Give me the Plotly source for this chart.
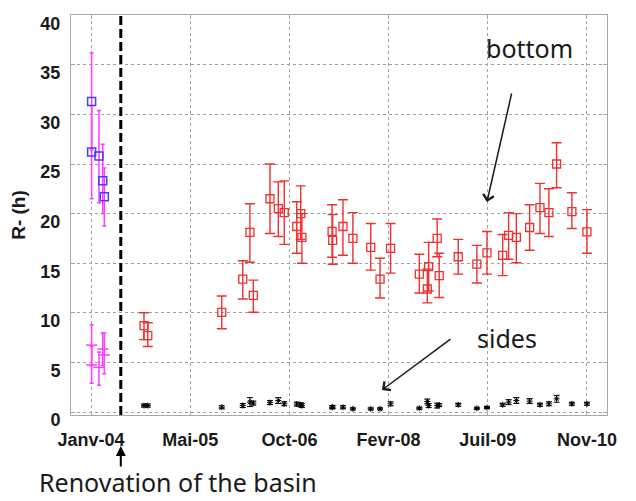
import plotly.graph_objects as go

# ---------------- data ----------------
TICK_DATES = ["2004-01-15", "2005-05-29", "2006-10-11", "2008-02-23", "2009-07-07", "2010-11-19"]
TICK_LABELS = ["Janv-04", "Mai-05", "Oct-06", "Fevr-08", "Juil-09", "Nov-10"]
Y_TICKS = [0, 5, 10, 15, 20, 25, 30, 35, 40]
RENOVATION_DATE = "2004-06-13"

# before renovation
BEFORE_DATES = ["2004-01-18", "2004-01-18", "2004-02-24", "2004-03-14", "2004-03-22"]
BEFORE_BOTTOM = [31.3, 26.2, 25.8, 23.3, 21.7]
BEFORE_BOTTOM_ERR_PLUS = [4.9, 4.7, 4.6, 3.7, 2.9]
BEFORE_BOTTOM_ERR_MINUS = [4.9, 4.7, 4.7, 3.3, 2.95]
BEFORE_SIDES = [6.75, 4.75, 4.5, 6.35, 5.75]
BEFORE_SIDES_ERR_PLUS = [2.05, 1.85, 1.55, 1.65, 2.25]
BEFORE_SIDES_ERR_MINUS = [2.05, 1.85, 1.8, 1.65, 1.9]

# after renovation
AFTER_DATES = [
    "2004-10-08", "2004-10-27", "2005-11-04", "2006-02-18", "2006-03-26", "2006-04-12",
    "2006-07-05", "2006-08-16", "2006-09-15", "2006-11-17", "2006-12-07", "2006-12-13",
    "2007-05-14", "2007-05-17", "2007-07-08", "2007-08-27", "2007-11-25", "2008-01-11",
    "2008-03-04", "2008-07-27", "2008-09-05", "2008-09-12", "2008-10-25", "2008-11-04",
    "2009-02-08", "2009-05-13", "2009-07-03", "2009-09-20", "2009-10-20", "2009-11-28",
    "2010-02-03", "2010-03-27", "2010-05-11", "2010-06-19", "2010-09-04", "2010-11-19",
]
AFTER_BOTTOM = [
    8.7, 7.7, 10.05, 13.4, 18.1, 11.75,
    21.5, 20.5, 20.1, 18.7, 20.0, 17.6,
    18.2, 17.3, 18.7, 17.5, 16.6, 13.4,
    16.5, 13.9, 12.4, 14.65, 17.5, 13.75,
    15.65, 14.9, 16.05, 15.8, 17.8, 17.6,
    18.6, 20.6, 20.1, 25.0, 20.2, 18.15,
]
AFTER_BOTTOM_ERR_PLUS = [
    1.3, 1.3, 1.65, 1.85, 2.9, 1.55,
    3.5, 2.7, 3.2, 2.5, 2.8, 2.4,
    2.7, 2.6, 2.7, 2.6, 2.4, 2.1,
    2.5, 2.0, 2.0, 2.45, 1.95, 2.25,
    1.75, 1.9, 2.15, 2.1, 2.3, 2.4,
    2.3, 2.45, 2.4, 2.15, 1.9, 2.25,
]
AFTER_BOTTOM_ERR_MINUS = [
    1.4, 1.1, 1.65, 2.0, 3.0, 1.7,
    3.5, 2.8, 3.2, 2.7, 2.6, 2.6,
    2.6, 2.4, 2.9, 2.5, 2.3, 1.9,
    2.5, 1.9, 1.4, 2.45, 1.85, 2.2,
    1.75, 1.9, 2.15, 2.05, 2.4, 2.55,
    2.3, 2.6, 2.4, 2.4, 1.7, 2.15,
]
AFTER_SIDES = [
    0.65, 0.65, 0.48, 0.65, 1.0, 0.9,
    0.95, 1.16, 0.83, 0.8, 0.73, 0.65,
    0.48, 0.5, 0.48, 0.32, 0.32, 0.32,
    0.83, 0.38, 1.06, 0.65, 0.65, 0.7,
    0.73, 0.37, 0.45, 0.73, 1.0, 1.16,
    1.1, 0.73, 0.83, 1.33, 0.83, 0.83,
]
AFTER_SIDES_ERR = [
    0.15, 0.15, 0.15, 0.2, 0.45, 0.2,
    0.2, 0.3, 0.2, 0.2, 0.2, 0.2,
    0.15, 0.15, 0.15, 0.1, 0.1, 0.1,
    0.2, 0.1, 0.25, 0.2, 0.25, 0.15,
    0.15, 0.1, 0.1, 0.15, 0.25, 0.3,
    0.25, 0.15, 0.2, 0.35, 0.15, 0.15,
]

# ---------------- styles ----------------
MAGENTA = "#ff3cff"
BLUE = "#3f3fff"
RED = "#ee3030"
GRID = "#a0a0a0"
FRAME = "#a9a9a9"

fig = go.Figure()

fig.add_trace(go.Scatter(
    x=BEFORE_DATES, y=BEFORE_BOTTOM, mode="markers",
    marker=dict(symbol="square-open", size=8, color=BLUE, line=dict(width=1.5, color=BLUE)),
    error_y=dict(type="data", symmetric=False, array=BEFORE_BOTTOM_ERR_PLUS,
                 arrayminus=BEFORE_BOTTOM_ERR_MINUS, color=MAGENTA, thickness=1.5, width=2),
))
fig.add_trace(go.Scatter(
    x=BEFORE_DATES, y=BEFORE_SIDES, mode="markers",
    marker=dict(symbol="line-ew-open", size=8, color=MAGENTA, line=dict(width=1.5, color=MAGENTA)),
    error_y=dict(type="data", symmetric=False, array=BEFORE_SIDES_ERR_PLUS,
                 arrayminus=BEFORE_SIDES_ERR_MINUS, color=MAGENTA, thickness=1.5, width=2),
))
fig.add_trace(go.Scatter(
    x=AFTER_DATES, y=AFTER_BOTTOM, mode="markers",
    marker=dict(symbol="square-open", size=8, color=RED, line=dict(width=1.3, color=RED)),
    error_y=dict(type="data", symmetric=False, array=AFTER_BOTTOM_ERR_PLUS,
                 arrayminus=AFTER_BOTTOM_ERR_MINUS, color=RED, thickness=1.4, width=5),
))
fig.add_trace(go.Scatter(
    x=AFTER_DATES, y=AFTER_SIDES, mode="markers",
    marker=dict(symbol="asterisk-open", size=5, color="black", line=dict(width=1, color="black")),
    error_y=dict(type="data", array=AFTER_SIDES_ERR, color="black", thickness=1, width=3),
))

# white boxes behind the labels (hide the grid as in the reference)
fig.add_shape(type="rect", xref="paper", yref="paper", x0=0.716, x1=0.998, y0=0.80, y1=0.997,
              fillcolor="white", line=dict(width=0), layer="between")
fig.add_shape(type="rect", xref="paper", yref="paper", x0=0.67, x1=0.983, y0=0.1425, y1=0.275,
              fillcolor="white", line=dict(width=0), layer="between")

# renovation line
fig.add_shape(type="line", xref="x", yref="paper", x0=RENOVATION_DATE, x1=RENOVATION_DATE,
              y0=0, y1=1, line=dict(color="black", width=3, dash="9px,4px"))

ANN_FONT = dict(family="Noto Sans", size=25, color="#1a1a1a")
fig.add_annotation(text="bottom", xref="paper", yref="paper", x=0.8545, y=0.9175,
                   xanchor="center", yanchor="middle", showarrow=False, font=ANN_FONT)
fig.add_annotation(text="sides", xref="paper", yref="paper", x=0.8134, y=0.1925,
                   xanchor="center", yanchor="middle", showarrow=False, font=ANN_FONT)
fig.add_annotation(text="", xref="paper", yref="paper", x=0.776, y=0.5325, ax=25, ay=-110,
                   showarrow=True, arrowhead=4, arrowsize=1.4, arrowwidth=1.5, arrowcolor="#1a1a1a")
fig.add_annotation(text="", xref="paper", yref="paper", x=0.5802, y=0.0625, ax=70, ay=-52,
                   showarrow=True, arrowhead=4, arrowsize=1.4, arrowwidth=1.5, arrowcolor="#1a1a1a")
fig.add_annotation(text="", xref="x", yref="paper", x=RENOVATION_DATE, y=-0.0775, ax=0, ay=22,
                   showarrow=True, arrowhead=2, arrowsize=1, arrowwidth=2, arrowcolor="black")
fig.add_annotation(text="Renovation of the basin", xref="paper", yref="paper",
                   x=-0.0634, y=-0.1675, xanchor="left", yanchor="middle",
                   showarrow=False, font=ANN_FONT)

TICK_FONT = dict(family="Liberation Sans", size=18, color="#1a1a1a", weight="bold")

fig.update_xaxes(
    type="date", range=["2003-10-06", "2011-02-28"], automargin=False,
    tickmode="array", tickvals=TICK_DATES, ticktext=TICK_LABELS,
    showgrid=True, gridcolor=GRID, griddash="dot", gridwidth=1,
    showline=True, linecolor=FRAME, linewidth=1, mirror="ticks",
    ticks="inside", ticklen=4, tickcolor=FRAME,
    tickfont=TICK_FONT, ticklabelstandoff=8, zeroline=False,
    ticklabeloverflow="allow",
)
fig.update_yaxes(
    range=[-0.3, 40.02], tickmode="array", tickvals=Y_TICKS, automargin=False,
    showgrid=True, gridcolor=GRID, griddash="dot", gridwidth=1,
    showline=True, linecolor=FRAME, linewidth=1, mirror="ticks",
    ticks="inside", ticklen=4, tickcolor=FRAME,
    tickfont=TICK_FONT, ticklabelstandoff=6, ticklabelshift=8, zeroline=False,
    ticklabeloverflow="allow",
    title=dict(text="R- (h)", font=dict(family="Liberation Sans", size=19, color="#1a1a1a", weight="bold"),
               standoff=10),
)

# the page body has an 8 px margin, so the figure is 8 px smaller and margins shifted
fig.update_layout(
    width=628, height=493,
    margin=dict(l=63, r=29, t=7, b=86, autoexpand=False),
    paper_bgcolor="white", plot_bgcolor="white",
    showlegend=False,
)

fig.write_html("out.html")
